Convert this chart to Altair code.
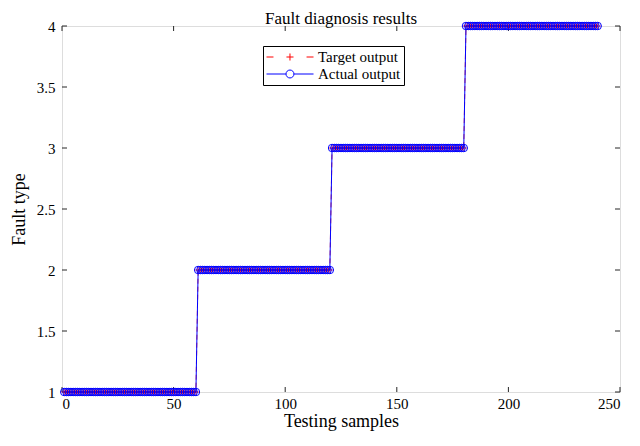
import altair as alt
import pandas as pd

# ---- data ----
fault_types = [1, 2, 3, 4]
samples_per_fault = [60, 60, 60, 60]
series_names = ["Target output", "Actual output"]
series_colors = ["#ff0000", "#0000ff"]
x_ticks = [0, 50, 100, 150, 200, 250]
y_ticks = [1, 1.5, 2, 2.5, 3, 3.5, 4]

target_output = []
for f, n in zip(fault_types, samples_per_fault):
    target_output += [f] * n
# the network output matches the target for every sample in the picture
actual_output = []
for f, n in zip(fault_types, samples_per_fault):
    actual_output += [f] * n
samples = list(range(1, len(target_output) + 1))

df_t = pd.DataFrame({"x": samples, "y": target_output})
df_a = pd.DataFrame({"x": samples, "y": actual_output})

W, H = 558, 366
FONT = "Liberation Serif"
AXC = "#262626"

xs = alt.Scale(domain=[0, 250], nice=False, zero=False)
ys = alt.Scale(domain=[1, 4], nice=False, zero=False)

xaxis = alt.Axis(values=x_ticks, ticks=False, domain=False, grid=False,
                 labelFont=FONT, labelFontSize=15, labelColor="#000",
                 labelPadding=4, title="Testing samples", titleFont=FONT,
                 titleFontSize=18, titleFontWeight="normal", titleColor="#000",
                 titlePadding=1)
yaxis = alt.Axis(values=y_ticks, ticks=False, domain=False, grid=False,
                 format="~g", labelFont=FONT, labelFontSize=15, labelColor="#000",
                 labelPadding=7, title="Fault type", titleFont=FONT,
                 titleFontSize=18, titleFontWeight="normal", titleColor="#000",
                 titlePadding=8)

target_line = alt.Chart(df_t).mark_line(color="#ff0000", strokeWidth=0.8,
                                        strokeDash=[5, 3]).encode(
    x=alt.X("x:Q", scale=xs, axis=xaxis),
    y=alt.Y("y:Q", scale=ys, axis=yaxis),
)
plus_path = "M-1,0H1M0,-1V1"
target_pts = alt.Chart(df_t).mark_point(shape=plus_path, size=36, color="#ff0000",
                                        filled=False, strokeWidth=0.8, opacity=1).encode(
    x=alt.X("x:Q", scale=xs), y=alt.Y("y:Q", scale=ys))

actual_line = alt.Chart(df_a).mark_line(color="#0000ff", strokeWidth=1).encode(
    x=alt.X("x:Q", scale=xs), y=alt.Y("y:Q", scale=ys))
actual_pts = alt.Chart(df_a).mark_point(shape="circle", size=56, color="#0000ff",
                                        filled=False, strokeWidth=1, opacity=1).encode(
    x=alt.X("x:Q", scale=xs), y=alt.Y("y:Q", scale=ys))

# legend symbols: line + marker drawn as custom paths (unit = 7.5px)
leg_target = "M-1,0H-0.07M1.66,0H2.6M2.13,-0.47V0.47M4.34,0H5.27"
leg_actual = ("M-1,0H1.6M2.66,0H5.27M1.6,0A0.53,0.53 0 1,0 2.66,0"
              "A0.53,0.53 0 1,0 1.6,0")
leg = alt.Legend(orient="none", legendX=201, legendY=20, title=None,
                 symbolSize=225, symbolStrokeWidth=1, labelOffset=36,
                 labelFont=FONT, labelFontSize=15, labelColor="#000",
                 strokeColor="#000", fillColor="#ffffff", padding=3,
                 rowPadding=1, labelLimit=300)
legend_df = pd.DataFrame({"series": series_names})
legend_layer = alt.Chart(legend_df).mark_point(filled=False, opacity=1,
                                               strokeWidth=1).encode(
    color=alt.Color("series:N", scale=alt.Scale(domain=series_names,
                                                range=series_colors), legend=leg),
    shape=alt.Shape("series:N", scale=alt.Scale(domain=series_names,
                                                range=[leg_target, leg_actual]),
                    legend=leg),
).transform_filter("false")

# inward ticks (MATLAB style) on all four sides
xt = pd.DataFrame({"v": x_ticks})
yt = pd.DataFrame({"v": y_ticks})
tick_bottom = alt.Chart(xt).mark_rule(color=AXC, strokeWidth=1).encode(
    x=alt.X("v:Q", scale=xs), y=alt.value(H), y2=alt.value(H - 5))
tick_top = alt.Chart(xt).mark_rule(color=AXC, strokeWidth=1).encode(
    x=alt.X("v:Q", scale=xs), y=alt.value(0), y2=alt.value(5))
tick_left = alt.Chart(yt).mark_rule(color=AXC, strokeWidth=1).encode(
    y=alt.Y("v:Q", scale=ys), x=alt.value(0), x2=alt.value(5))
tick_right = alt.Chart(yt).mark_rule(color=AXC, strokeWidth=1).encode(
    y=alt.Y("v:Q", scale=ys), x=alt.value(W), x2=alt.value(W - 5))

chart = alt.layer(
    tick_bottom, tick_top, tick_left, tick_right,
    target_line, target_pts, actual_line, actual_pts, legend_layer,
).properties(
    width=W, height=H,
    title=alt.TitleParams("Fault diagnosis results", font=FONT, fontSize=17,
                          fontWeight="normal", color="#000", offset=-9),
    autosize=alt.AutoSizeParams(type="none"),
    padding={"left": 54, "top": 18, "right": 12, "bottom": 40},
).configure_view(stroke=AXC, strokeWidth=1).configure(background="#ffffff")

chart.save("out.html", embed_options={"renderer": "svg", "actions": False})
